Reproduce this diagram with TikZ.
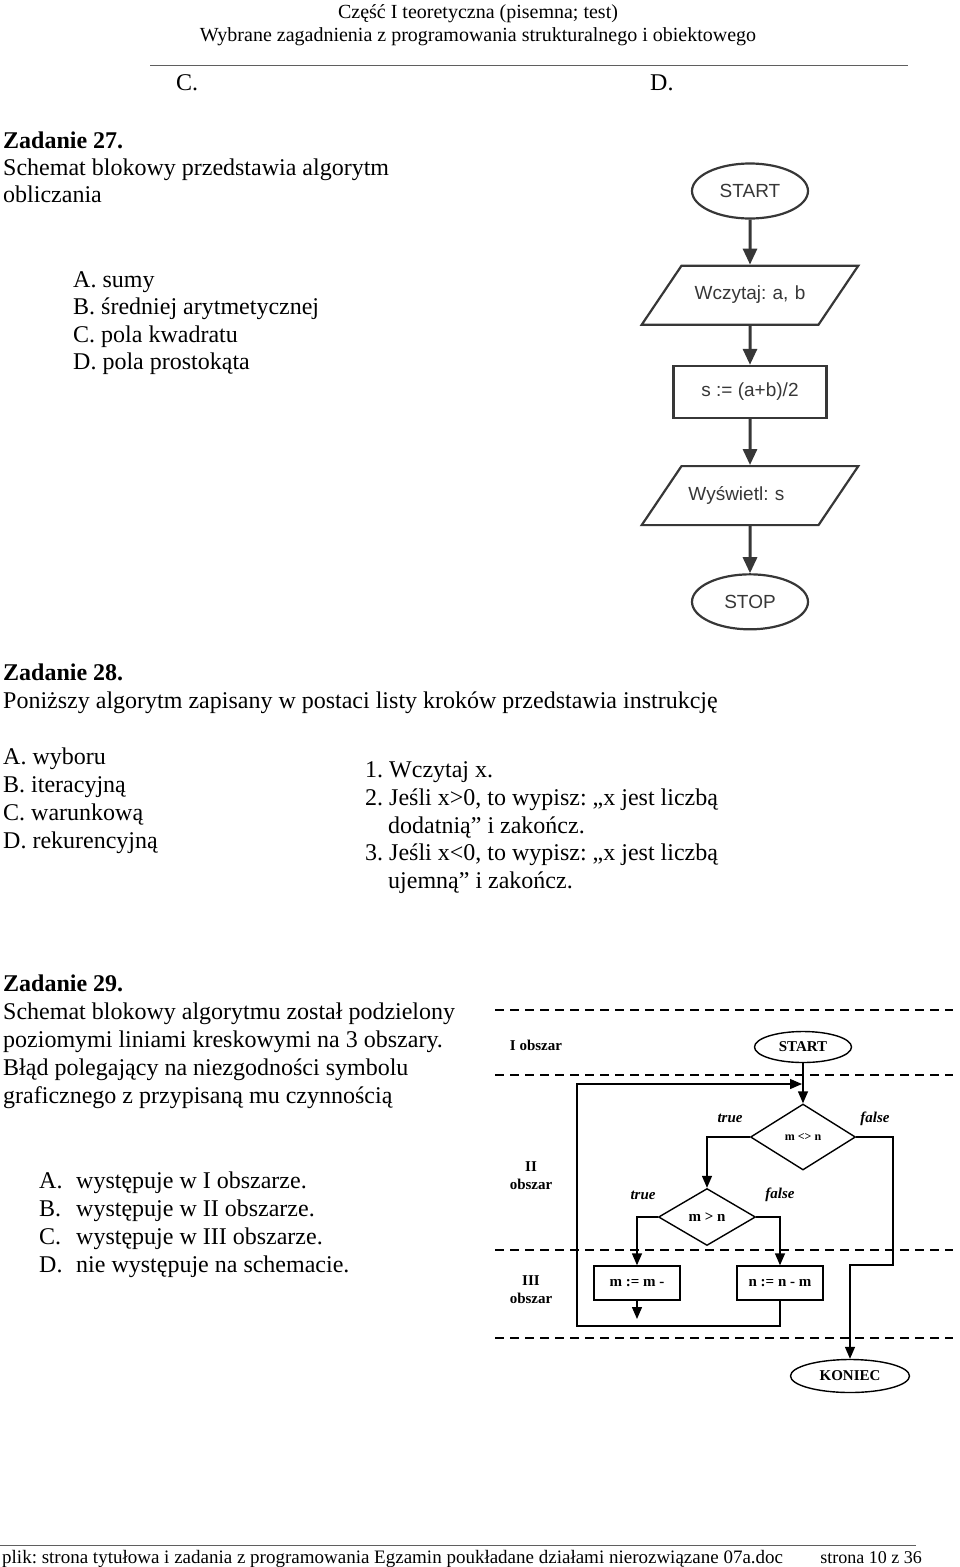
\documentclass[tikz,border=0pt]{standalone}
\usepackage{fontspec}
\setmainfont{Liberation Serif}
\newfontfamily\arialfont{Liberation Sans}
\usetikzlibrary{shapes.geometric, arrows.meta, positioning, calc}
\definecolor{chartgray}{RGB}{55,55,55}
\definecolor{rulegray}{RGB}{95,95,95}
\frenchspacing

\begin{document}
\begin{tikzpicture}[
    x=1pt, y=-1pt,
    txt/.style={anchor=base west, inner sep=0pt, font=\fontsize{24}{28}\selectfont},
    zad/.style={txt, font=\fontsize{24}{28}\selectfont\bfseries},
    hdr/.style={anchor=base, inner sep=0pt, font=\fontsize{20}{23}\selectfont},
    foot/.style={inner sep=0pt, font=\fontsize{18}{20}\selectfont},
    gterm/.style={ellipse, draw=chartgray, line width=2.2pt, text=chartgray, minimum width=116pt, minimum height=55pt, inner sep=0pt, font=\arialfont\fontsize{19}{22}\selectfont},
    gio/.style={trapezium, trapezium left angle=56, trapezium right angle=124, draw=chartgray, line width=2.2pt, text=chartgray, text width=137pt, text height=13pt, text depth=4pt, inner xsep=0pt, inner ysep=21pt, font=\arialfont\fontsize{19}{22}\selectfont},
    gbox/.style={rectangle, draw=chartgray, line width=2.2pt, text=chartgray, minimum width=153pt, minimum height=52pt, inner sep=0pt, font=\arialfont\fontsize{19}{22}\selectfont},
    garrow/.style={draw=chartgray, line width=3pt, -{Triangle[length=16pt,width=14pt]}},
    bterm/.style={ellipse, draw, line width=1.4pt, inner sep=0pt, font=\fontsize{15}{17}\selectfont\bfseries},
    bcond/.style={diamond, draw, line width=1.4pt, inner sep=0pt, font=\fontsize{15}{17}\selectfont\bfseries},
    bbox/.style={rectangle, draw, line width=1.4pt, minimum width=86pt, minimum height=34pt, inner sep=0pt, font=\fontsize{15}{17}\selectfont\bfseries},
    barrow/.style={line width=1.4pt, -{Triangle[length=12pt,width=10pt]}},
    tflabel/.style={inner sep=0pt, font=\fontsize{15}{17}\selectfont\bfseries\itshape},
    zone/.style={inner sep=0pt, align=center, font=\fontsize{15}{18}\selectfont\bfseries},
    sep/.style={dash pattern=on 9pt off 6pt, line width=1.2pt}
]
\useasboundingbox (0,0) rectangle (960,1567);

% Page header
\node[hdr] (head_one) at (478,18) {Część I teoretyczna (pisemna; test)};
\node[hdr] (head_two) at (478,41) {Wybrane zagadnienia z programowania strukturalnego i obiektowego};
\draw[rulegray, line width=0.8pt] (150,65) -- (908,65);
\node[txt] (prev_c) at (176,90) {C.};
\node[txt] (prev_d) at (650,90) {D.};

% Zadanie 27
\node[zad] (z27_title) at (3,148) {Zadanie 27.};
\node[txt] (z27_l1) at (3,175) {Schemat blokowy przedstawia algorytm};
\node[txt] (z27_l2) at (3,202) {obliczania};
\node[txt] (z27_a) at (73,287) {A. sumy};
\node[txt] (z27_b) at (73,314) {B. średniej arytmetycznej};
\node[txt] (z27_c) at (73,342) {C. pola kwadratu};
\node[txt] (z27_d) at (73,369) {D. pola prostokąta};

% Flowchart of the average
\node[gterm] (start) at (750,191) {START};
\node[gio, align=center, below=45pt of start] (read_ab) {Wczytaj: a, b};
\node[gbox, below=39pt of read_ab] (calc_s) {s := (a+b)/2};
\node[gio, text width=123pt, inner xsep=7pt, align=left, below=46pt of calc_s] (show_s) {Wyświetl: s};
\node[gterm, below=47pt of show_s] (stop) {STOP};

\draw[garrow] (start) -- (read_ab);
\draw[garrow] (read_ab) -- (calc_s);
\draw[garrow] (calc_s) -- (show_s);
\draw[garrow] (show_s) -- (stop);

% Zadanie 28
\node[zad] (z28_title) at (3,680) {Zadanie 28.};
\node[txt] (z28_l1) at (3,708) {Poniższy algorytm zapisany w postaci listy kroków przedstawia instrukcję};
\node[txt] (z28_a) at (3,764) {A. wyboru};
\node[txt] (z28_b) at (3,792) {B. iteracyjną};
\node[txt] (z28_c) at (3,820) {C. warunkową};
\node[txt] (z28_d) at (3,848) {D. rekurencyjną};
\node[txt] (step_one) at (365,777) {1. Wczytaj x.};
\node[txt] (step_two) at (365,805) {2. Jeśli x>0, to wypisz: „x jest liczbą};
\node[txt] (step_two_b) at (388,833) {dodatnią” i zakończ.};
\node[txt] (step_three) at (365,860) {3. Jeśli x<0, to wypisz: „x jest liczbą};
\node[txt] (step_three_b) at (388,888) {ujemną” i zakończ.};

% Zadanie 29
\node[zad] (z29_title) at (3,991) {Zadanie 29.};
\node[txt] (z29_l1) at (3,1019) {Schemat blokowy algorytmu został podzielony};
\node[txt] (z29_l2) at (3,1047) {poziomymi liniami kreskowymi na 3 obszary.};
\node[txt] (z29_l3) at (3,1075) {Błąd polegający na niezgodności symbolu};
\node[txt] (z29_l4) at (3,1103) {graficznego z przypisaną mu czynnością};
\node[txt] (z29_a) at (39,1188) {A.};
\node[txt] (z29_b) at (39,1216) {B.};
\node[txt] (z29_c) at (39,1244) {C.};
\node[txt] (z29_d) at (39,1272) {D.};
\node[txt] (z29_at) at (76,1188) {występuje w I obszarze.};
\node[txt] (z29_bt) at (76,1216) {występuje w II obszarze.};
\node[txt] (z29_ct) at (76,1244) {występuje w III obszarze.};
\node[txt] (z29_dt) at (76,1272) {nie występuje na schemacie.};

% Zones of the second flowchart
\foreach \yy in {1010,1075,1250,1338}
    \draw[sep] (495,\yy) -- (953,\yy);
\node[zone] (zone_one) at (536,1045) {I obszar};
\node[zone] (zone_two) at (531,1176) {II\\obszar};
\node[zone] (zone_three) at (531,1290) {III\\obszar};

% Flowchart of the subtraction loop
\node[bterm, minimum width=97pt, minimum height=31pt] (begin) at (803,1047) {START};
\node[bcond, minimum width=105pt, minimum height=66pt, font=\fontsize{12}{14}\selectfont\bfseries] (cmp_ne) at (803,1137) {m <> n};
\node[bcond, minimum width=97pt, minimum height=57pt] (cmp_gt) at (707,1217) {m > n};
\node[bbox] (sub_m) at (637,1283) {m := m -};
\node[bbox] (sub_n) at (780,1283) {n := n - m};
\node[bterm, minimum width=119pt, minimum height=33pt] (koniec) at (850,1376) {KONIEC};

\coordinate (merge) at (802,1084);
\coordinate (loop_corner) at (577,1326);
\coordinate (exit_jog) at (893,1265);
\coordinate (stub_end) at (637,1319);

\draw[barrow] (begin) -- (cmp_ne);
\draw[barrow] (sub_n.south) |- (loop_corner) |- (merge);
\draw[barrow] (cmp_ne.west) -| (cmp_gt.north);
\draw[barrow] (cmp_ne.east) -| (exit_jog) -| (koniec.north);
\draw[barrow] (cmp_gt.west) -| (sub_m.north);
\draw[barrow] (cmp_gt.east) -| (sub_n.north);
\draw[barrow] (sub_m) -- (stub_end);

\node[tflabel] (ne_true) at (730,1118) {true};
\node[tflabel] (ne_false) at (875,1119) {false};
\node[tflabel] (gt_true) at (643,1195) {true};
\node[tflabel] (gt_false) at (780,1195) {false};

% Page footer
\draw[rulegray, line width=0.8pt] (0,1545) -- (916,1545);
\node[foot, anchor=base west, font=\fontsize{19}{20}\selectfont] (foot_file) at (2,1563) {plik: strona tytułowa i zadania z programowania Egzamin poukładane działami nierozwiązane 07a.doc};
\node[foot, anchor=base east] (foot_page) at (922,1563) {strona 10 z 36};

\end{tikzpicture}
\end{document}
